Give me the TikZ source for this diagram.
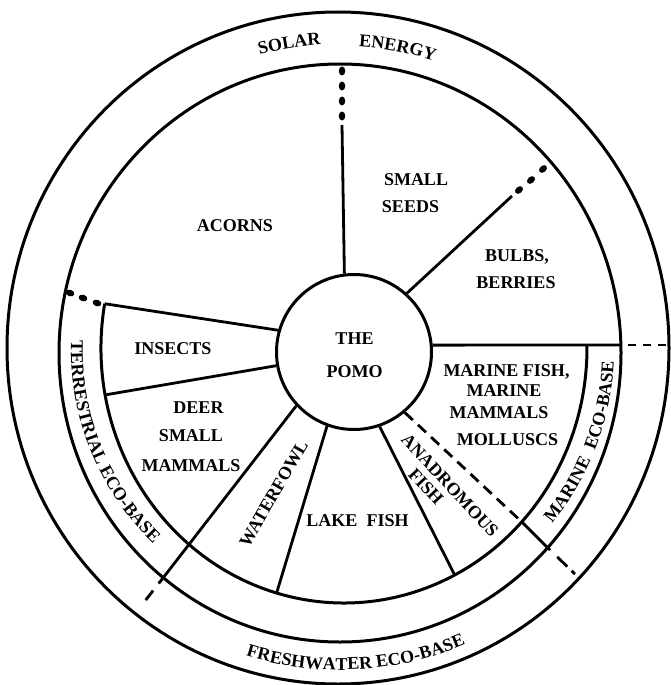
\documentclass[tikz,border=0pt]{standalone}
\usepackage{fontspec}
\setmainfont{Liberation Serif}
\usetikzlibrary{decorations.text,shapes.geometric}
\newcommand\lblfont{\bfseries\fontsize{18pt}{22pt}\selectfont}
\begin{document}
\begin{tikzpicture}[x=1pt,y=1pt,
  ring/.style={line width=3pt},
  spoke/.style={line width=2.8pt},
  dashspoke/.style={line width=2.8pt, dash pattern=on 11pt off 7pt},
  lbl/.style={font=\lblfont, inner sep=0pt, text height=12pt, text depth=0pt},
  bigdot/.style={ellipse, fill=black, draw=none, inner sep=0pt, minimum width=9pt, minimum height=6.5pt},
  hub/.style={circle, draw, line width=3pt, minimum size=155pt, inner sep=0pt}
]
\useasboundingbox (0,0) rectangle (671,-685);
\fill[white] (0,0) rectangle (671,-685);

% rings
\draw[ring] (338,-348) ellipse [x radius=331, y radius=336];
\draw[ring] (340,-353) ellipse [x radius=281, y radius=289];
\coordinate (c3c) at (344,-348);
\draw[ring] (c3c) ++(170:243 and 255) arc [start angle=170, end angle=360.5, x radius=243, y radius=255];

% hub
\node[hub] (pomo) at (354,-352) {};

% end points
\coordinate (tTop) at (342,-125);
\coordinate (tBulb) at (512,-196);
\path (c3c) ++(170:243 and 255) coordinate (tIns);
\path (c3c) ++(190.6:243 and 255) coordinate (tInsD);
\path (c3c) ++(253.9:243 and 255) coordinate (tWL);
\path (c3c) ++(297.1:243 and 255) coordinate (tLA);
\path (c3c) ++(317:243 and 255) coordinate (tAMin);
\coordinate (tDW) at (163,-578);
\coordinate (tDWend) at (141,-606);
\coordinate (tAM) at (550,-550);
\coordinate (tAMend) at (575,-574);
\coordinate (tH) at (621,-345);
\coordinate (tHend) at (671,-345);

% spokes
\draw[spoke] (pomo.97) -- (tTop);
\draw[spoke] (pomo.48) -- (tBulb);
\draw[spoke] (pomo.164) -- (tIns);
\draw[spoke] (pomo.190) -- (tInsD);
\draw[spoke] (pomo.223) -- (tDW);
\draw[spoke, dash pattern=on 7pt off 9pt on 12pt off 9pt] (tDW) -- (tDWend);
\draw[spoke] (pomo.250) -- (tWL);
\draw[spoke] (pomo.289) -- (tLA);
\draw[dashspoke] (pomo.310) -- (tAMin);
\draw[spoke] (tAMin) -- (tAM);
\draw[spoke, dash pattern=on 0pt off 10pt on 14pt off 6pt on 7pt off 20pt] (tAM) -- (tAMend);
\draw[spoke] (pomo.5) -- (tH);
\draw[spoke, dash pattern=on 8pt off 7pt, dash phase=8pt] (tH) -- (tHend);

% dots
\node[bigdot, rotate=90] (d1) at (342,-71) {};
\node[bigdot, rotate=90] (d2) at (342,-86) {};
\node[bigdot, rotate=90] (d3) at (342,-101) {};
\node[bigdot, rotate=90] (d4) at (342,-116) {};
\node[bigdot, rotate=40] (d5) at (519,-190) {};
\node[bigdot, rotate=40] (d6) at (531,-180) {};
\node[bigdot, rotate=40] (d7) at (543,-169) {};
\node[bigdot, rotate=-20] (d8) at (97,-303) {};
\node[bigdot, rotate=-20] (d9) at (83,-298) {};
\node[bigdot, rotate=-20] (d10) at (70,-293) {};

% labels
\node[lbl] (acorns) at (235,-225) {ACORNS};
\node[lbl] (small) at (416,-179.5) {SMALL};
\node[lbl] (seeds) at (410.5,-206.5) {SEEDS};
\node[lbl] (bulbs) at (517,-255) {BULBS,};
\node[lbl] (berries) at (516,-282.5) {BERRIES};
\node[lbl] (the) at (354.5,-338.5) {THE};
\node[lbl] (pomotext) at (354.5,-371.5) {POMO};
\node[lbl] (insects) at (173,-348.5) {INSECTS};
\node[lbl] (deer) at (198.5,-407.5) {DEER};
\node[lbl] (smalltwo) at (191,-435) {SMALL};
\node[lbl] (mammals) at (191,-465) {MAMMALS};
\node[lbl, rotate=60] (waterfowl) at (273.5,-493.5) {WATERFOWL};
\node[lbl] (lakefish) at (357.5,-520.5) {LAKE\ \ FISH};
\node[font=\lblfont, inner sep=0pt, align=left, rotate=-47] (anadromous) at (443.2,-491.8)
  {ANADROMOUS\\[-3.5pt]\hspace*{30pt}FISH};
\node[lbl] (mfish) at (506.5,-370) {MARINE FISH,};
\node[lbl] (marine) at (504,-390.5) {MARINE};
\node[lbl] (mmammals) at (499,-412.5) {MAMMALS};
\node[lbl] (molluscs) at (507.5,-439.5) {MOLLUSCS};

% band texts
\path[decorate, decoration={text along path, text align=center, text={|\lblfont|SOLAR}}]
  (340,-350) ++(114.4:306) arc [start angle=114.4, end angle=84.4, radius=306];
\path[decorate, decoration={text along path, text align=center, text={|\lblfont|ENERGY}}]
  (340,-350) ++(94.2:304) arc [start angle=94.2, end angle=64.2, radius=304];
\path[decorate, decoration={text along path, text align=center, text={|\lblfont|FRESHWATER ECO-BASE}}]
  (340,-350) ++(243:320) arc [start angle=243, end angle=303, radius=320];
\path[decorate, decoration={text along path, text align=center, text={|\lblfont|TERRESTRIAL ECO-BASE}}]
  (340,-350) ++(172:269) arc [start angle=172, end angle=232, radius=269];
\path[decorate, decoration={text along path, text align=center, text={|\lblfont|MARINE}}]
  (340,-350) ++(-46.5:274) arc [start angle=-46.5, end angle=-16.5, radius=274];
\path[decorate, decoration={text along path, text align=center, text={|\lblfont|ECO-BASE}}]
  (340,-350) ++(-27:274) arc [start angle=-27, end angle=3, radius=274];
\end{tikzpicture}
\end{document}
